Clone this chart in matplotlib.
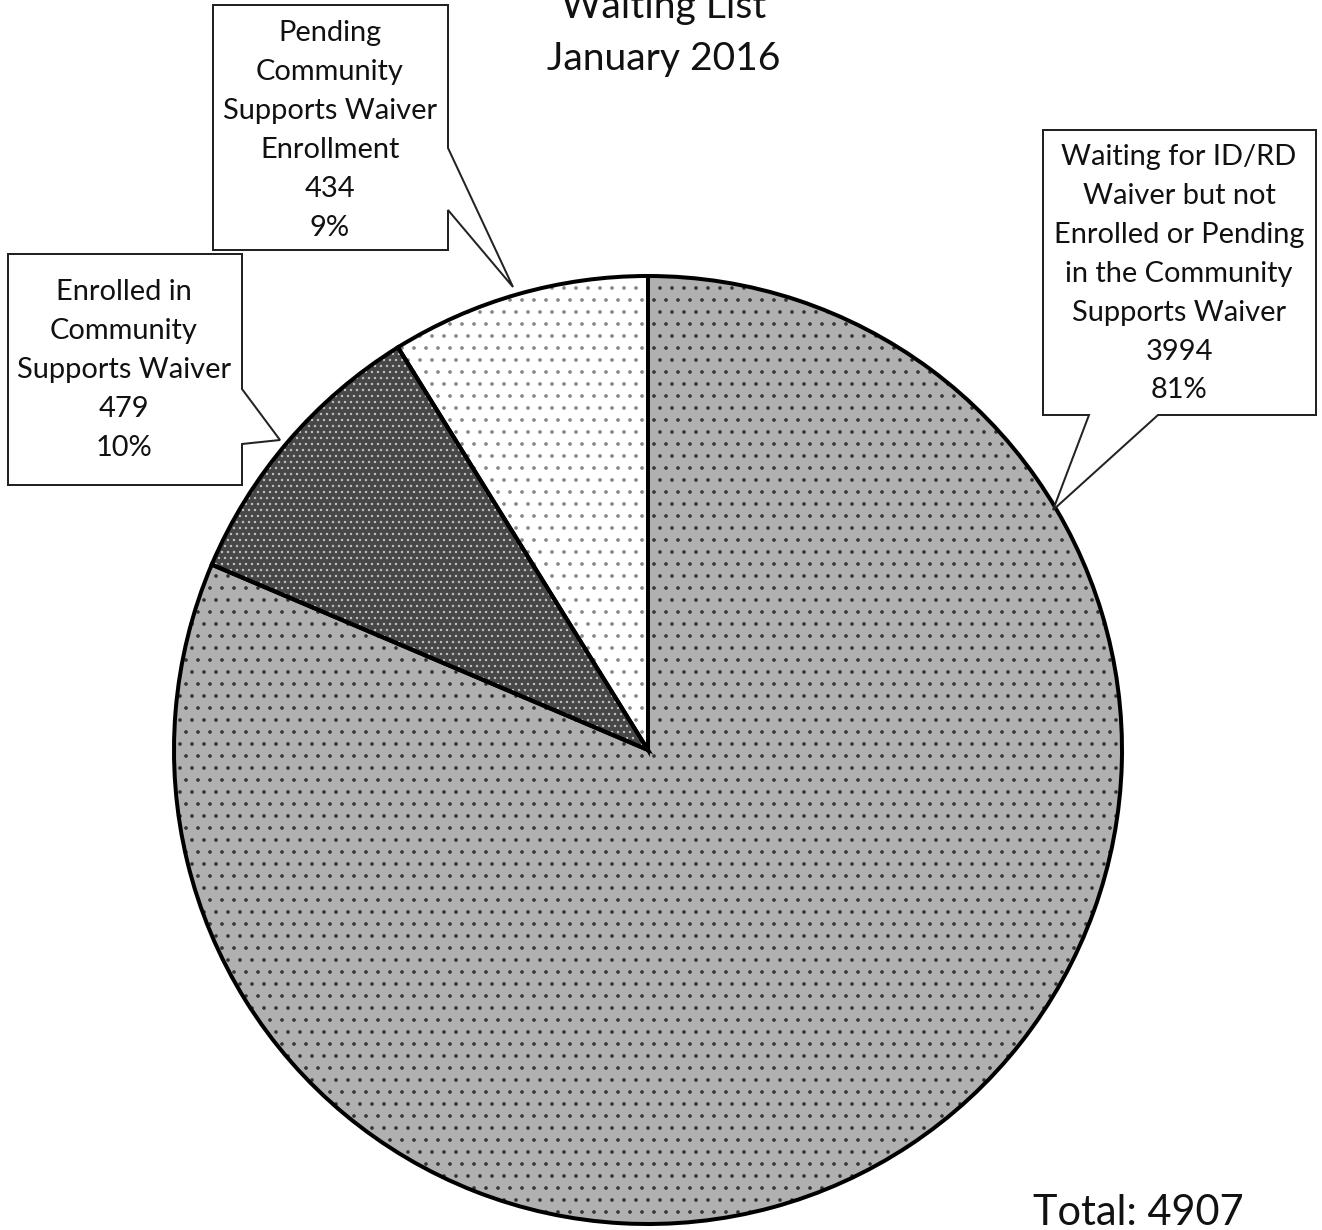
import matplotlib
matplotlib.use("Agg")
import matplotlib.pyplot as plt
from matplotlib.patches import Polygon

plt.rcParams['font.family'] = ['Lato', 'DejaVu Sans']
plt.rcParams['hatch.linewidth'] = 1.2

# waiting list breakdown, January 2016
categories = [
    "Pending\nCommunity\nSupports Waiver\nEnrollment",
    "Enrolled in\nCommunity\nSupports Waiver",
    "Waiting for ID/RD\nWaiver but not\nEnrolled or Pending\nin the Community\nSupports Waiver",
]
counts = [434, 479, 3994]
total = 4907

face_colors = ['#ffffff', '#474747', '#b0b0b0']
dot_colors = ['#858585', '#c0c0c0', '#333333']
hatches = ['.', '..', '.']
explode = [0.013, 0.02, 0.0]

W, H = 1322, 1230
DPI = 72
fig = plt.figure(figsize=(W / DPI, H / DPI), dpi=DPI)
ax = fig.add_axes([0, 0, 1, 1])

center = (648, H - 750)
radius = 474

# fill + dots
wedges, _ = ax.pie(counts, startangle=90, counterclock=True, radius=radius,
                   center=center, explode=explode,
                   wedgeprops=dict(linewidth=0))
for w, fc, dc, h in zip(wedges, face_colors, dot_colors, hatches):
    w.set_facecolor(fc)
    w.set_edgecolor(dc)
    w.set_linewidth(0)
    w.set_hatch(h)

# black outlines on top
outlines, _ = ax.pie(counts, startangle=90, counterclock=True, radius=radius,
                     center=center, explode=explode,
                     wedgeprops=dict(facecolor='none', edgecolor='black',
                                     linewidth=4, joinstyle='miter'))

# callout boxes: (left, top, right, bottom) in pixels, tail base and tip
boxes = [
    dict(box=(213, 5, 448, 250), tail=[(448, 148), (513, 287), (448, 210)],
         side='right', cx=330, y0=33),
    dict(box=(8, 254, 242, 485), tail=[(242, 389), (280, 440), (242, 444)],
         side='right', cx=124, y0=292),
    dict(box=(1043, 130, 1316, 415), tail=[(1158, 415), (1053, 510), (1089, 415)],
         side='bottom', cx=1179, y0=157),
]

pitch = 38.9
for b, name, n in zip(boxes, categories, counts):
    l, t, r, btm = b['box']
    if b['side'] == 'right':
        pts = [(l, t), (r, t)] + b['tail'] + [(r, btm), (l, btm)]
    else:
        pts = [(l, t), (r, t), (r, btm)] + b['tail'] + [(l, btm)]
    pts = [(x, H - y) for x, y in pts]
    ax.add_patch(Polygon(pts, closed=True, facecolor='white', edgecolor='#222222',
                         linewidth=2, zorder=5))
    lines = name.split("\n") + [str(n), f"{round(n / total * 100)}%"]
    for i, s in enumerate(lines):
        ax.text(b['cx'], H - (b['y0'] + i * pitch), s, ha='center', va='center',
                fontsize=29, color='#111111', zorder=6)

ax.text(664, H - 18, "Waiting List", ha='center', va='baseline', fontsize=39,
        color='#111111')
ax.text(664, H - 70, "January 2016", ha='center', va='baseline', fontsize=39,
        color='#111111')
ax.text(1033, H - 1225, f"Total: {total}", ha='left', va='baseline', fontsize=41.5,
        color='#111111')

ax.set_xlim(0, W)
ax.set_ylim(0, H)
ax.set_aspect('equal')
ax.axis('off')

fig.savefig("out.png", dpi=DPI, facecolor='white')
